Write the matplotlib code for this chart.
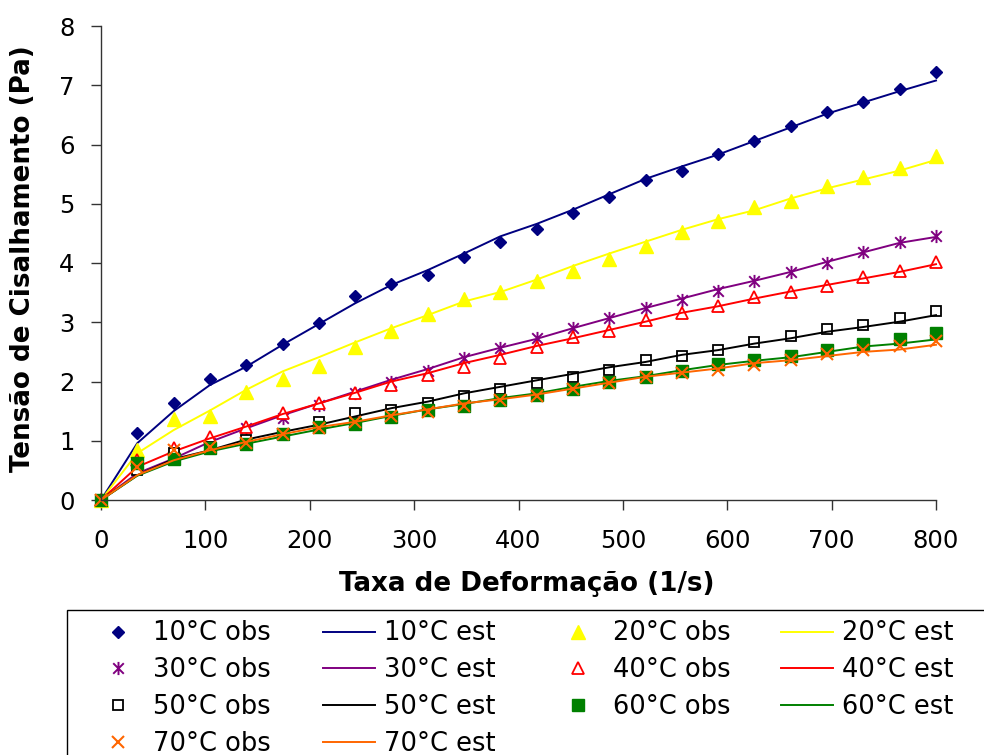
import matplotlib
matplotlib.use("Agg")
import matplotlib.pyplot as plt
from matplotlib.path import Path
from matplotlib.patches import Rectangle

# shear rate (1/s)
rate = [0, 34.8, 69.6, 104.3, 139.1, 173.9, 208.7, 243.5, 278.3, 313.0, 347.8, 382.6,
        417.4, 452.2, 487.0, 521.7, 556.5, 591.3, 626.1, 660.9, 695.7, 730.4, 765.2, 800.0]

# shear stress (Pa), observed and estimated, per temperature
obs_10 = [0, 1.13, 1.63, 2.05, 2.28, 2.64, 2.98, 3.45, 3.65, 3.80, 4.10, 4.36,
          4.58, 4.84, 5.12, 5.40, 5.56, 5.84, 6.06, 6.32, 6.55, 6.72, 6.94, 7.22]
est_10 = [0, 0.96, 1.50, 1.94, 2.25, 2.62, 2.97, 3.32, 3.63, 3.88, 4.16, 4.45,
          4.66, 4.90, 5.16, 5.42, 5.63, 5.83, 6.06, 6.29, 6.52, 6.71, 6.90, 7.08]
obs_20 = [0, 0.84, 1.37, 1.42, 1.82, 2.04, 2.27, 2.58, 2.86, 3.14, 3.39, 3.51,
          3.69, 3.87, 4.07, 4.29, 4.53, 4.71, 4.94, 5.05, 5.30, 5.45, 5.61, 5.81]
est_20 = [0, 0.79, 1.18, 1.51, 1.86, 2.17, 2.41, 2.66, 2.90, 3.12, 3.35, 3.51,
          3.72, 3.95, 4.16, 4.36, 4.56, 4.74, 4.89, 5.09, 5.26, 5.41, 5.56, 5.74]
obs_30 = [0, 0.53, 0.73, 0.96, 1.21, 1.38, 1.60, 1.80, 2.00, 2.18, 2.39, 2.56,
          2.74, 2.90, 3.08, 3.24, 3.38, 3.53, 3.70, 3.84, 4.00, 4.18, 4.35, 4.46]
est_30 = [0, 0.45, 0.70, 0.98, 1.21, 1.43, 1.63, 1.83, 2.03, 2.21, 2.41, 2.57,
          2.72, 2.90, 3.07, 3.24, 3.40, 3.56, 3.70, 3.85, 4.02, 4.18, 4.34, 4.44]
obs_40 = [0, 0.68, 0.87, 1.07, 1.23, 1.46, 1.63, 1.80, 1.94, 2.11, 2.25, 2.39,
          2.59, 2.75, 2.86, 3.03, 3.15, 3.28, 3.42, 3.51, 3.62, 3.76, 3.87, 4.01]
est_40 = [0, 0.56, 0.82, 1.04, 1.24, 1.45, 1.63, 1.81, 2.00, 2.14, 2.31, 2.45,
          2.60, 2.73, 2.87, 3.01, 3.16, 3.27, 3.40, 3.52, 3.63, 3.74, 3.85, 3.98]
obs_50 = [0, 0.51, 0.79, 0.90, 1.02, 1.10, 1.32, 1.46, 1.52, 1.63, 1.76, 1.87,
          1.98, 2.08, 2.19, 2.36, 2.43, 2.53, 2.66, 2.77, 2.88, 2.96, 3.08, 3.19]
est_50 = [0, 0.42, 0.69, 0.84, 1.02, 1.15, 1.27, 1.41, 1.55, 1.66, 1.80, 1.91,
          2.02, 2.13, 2.24, 2.33, 2.45, 2.53, 2.64, 2.73, 2.84, 2.92, 3.01, 3.12]
obs_60 = [0, 0.62, 0.70, 0.87, 0.95, 1.12, 1.23, 1.28, 1.40, 1.52, 1.59, 1.69,
          1.77, 1.88, 2.00, 2.08, 2.18, 2.30, 2.37, 2.43, 2.54, 2.63, 2.71, 2.82]
est_60 = [0, 0.41, 0.65, 0.82, 0.95, 1.07, 1.19, 1.30, 1.42, 1.53, 1.62, 1.72,
          1.80, 1.91, 2.01, 2.09, 2.19, 2.28, 2.35, 2.41, 2.50, 2.59, 2.64, 2.71]
obs_70 = [0, 0.56, 0.84, 0.90, 0.96, 1.12, 1.21, 1.32, 1.41, 1.49, 1.59, 1.68,
          1.76, 1.87, 1.98, 2.07, 2.15, 2.19, 2.28, 2.36, 2.46, 2.53, 2.60, 2.69]
est_70 = [0, 0.42, 0.67, 0.84, 0.98, 1.11, 1.23, 1.32, 1.43, 1.53, 1.63, 1.70,
          1.78, 1.88, 1.98, 2.08, 2.15, 2.22, 2.31, 2.36, 2.43, 2.50, 2.54, 2.62]

temps = ["10", "20", "30", "40", "50", "60", "70"]
obs = [obs_10, obs_20, obs_30, obs_40, obs_50, obs_60, obs_70]
est = [est_10, est_20, est_30, est_40, est_50, est_60, est_70]

# excel style star: vertical bar + X
star = Path([(0, -1), (0, 1), (-0.8, -0.8), (0.8, 0.8), (-0.8, 0.8), (0.8, -0.8)],
            [Path.MOVETO, Path.LINETO, Path.MOVETO, Path.LINETO, Path.MOVETO, Path.LINETO])

colors = ["#000080", "#FFFF00", "#800080", "#FF0000", "#000000", "#008000", "#FF6600"]
styles = [
    dict(marker="D", ms=6.5, mfc="#000080", mec="#000080"),
    dict(marker="^", ms=10, mfc="#FFFF00", mec="#FFFF00"),
    dict(marker=star, ms=9.5, mfc="none", mec="#800080", mew=1.4),
    dict(marker="^", ms=9, mfc="white", mec="#FF0000", mew=1.3),
    dict(marker="s", ms=7.5, mfc="white", mec="#000000", mew=1.3),
    dict(marker="s", ms=8, mfc="#008000", mec="#008000"),
    dict(marker="x", ms=8.5, mec="#FF6600", mew=1.5),
]

fs = 17.5
fig = plt.figure(figsize=(9.84, 7.55), dpi=100)
ax = fig.add_axes([101 / 984, 1 - 500 / 755, 835 / 984, 474 / 755])

h_obs, h_est = [], []
for t, o, e, c, st in zip(temps, obs, est, colors, styles):
    ho, = ax.plot(rate, o, linestyle="none", clip_on=False, label=f"{t}°C obs", **st)
    he, = ax.plot(rate, e, color=c, lw=1.4, clip_on=False, label=f"{t}°C est")
    h_obs.append(ho)
    h_est.append(he)

ax.set_xlim(0, 800)
ax.set_ylim(0, 8)
ax.set_xticks(range(0, 801, 100))
ax.set_yticks(range(0, 9))
ax.spines["top"].set_visible(False)
ax.spines["right"].set_visible(False)
for s in ["left", "bottom"]:
    ax.spines[s].set_color("#333333")
    ax.spines[s].set_linewidth(1)
ax.tick_params(direction="out", length=7, width=1, color="#333333", labelsize=fs)
ax.tick_params(axis="y", pad=12)
ax.tick_params(axis="x", pad=14)

ax.set_xlabel("Taxa de Deformação (1/s)", fontsize=18.8, fontweight="bold")
ax.set_ylabel("Tensão de Cisalhamento (Pa)", fontsize=18.8, fontweight="bold")
ax.xaxis.set_label_coords(0.51, -0.15)
ax.yaxis.set_label_coords(-0.078, 0.51)

# legend in four columns, each its own legend so the columns sit evenly
columns = [
    [h_obs[0], h_obs[2], h_obs[4], h_obs[6]],
    [h_est[0], h_est[2], h_est[4], h_est[6]],
    [h_obs[1], h_obs[3], h_obs[5]],
    [h_est[1], h_est[3], h_est[5]],
]
col_x = [92, 323, 552, 781]
for hs, x in zip(columns, col_x):
    fig.legend(handles=hs, labels=[h.get_label() for h in hs], ncol=1,
               loc="upper left", bbox_to_anchor=(x / 984, 1 - 620.5 / 755),
               bbox_transform=fig.transFigure, frameon=False, fontsize=18.5,
               borderpad=0, borderaxespad=0, handlelength=2.02, handletextpad=0.36,
               labelspacing=0.42, numpoints=1)

fig.patches.append(Rectangle((67 / 984, -0.05), 1.0, 0.05 + 1 - 610 / 755,
                             transform=fig.transFigure, fill=False,
                             edgecolor="black", linewidth=1))

fig.savefig("out.png", dpi=100)
